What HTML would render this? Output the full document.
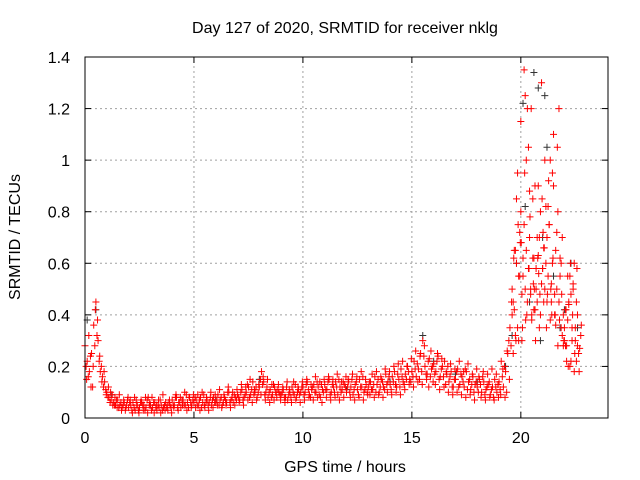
<!DOCTYPE html>
<html><head><meta charset="utf-8"><style>
html,body{margin:0;padding:0;background:#fff;}
svg{display:block;font-family:"Liberation Sans",sans-serif;}
</style></head><body>
<svg id="chart" width="640" height="480" viewBox="0 0 640 480">
<text x="345" y="33" font-size="16" text-anchor="middle">Day 127 of 2020, SRMTID for receiver nklg</text>
<text x="0" y="0" font-size="16" text-anchor="middle" transform="translate(20,237) rotate(-90)">SRMTID / TECUs</text>
<text x="345" y="472" font-size="16" text-anchor="middle">GPS time / hours</text>
<g id="grid"></g>
<g id="axes"></g>
<g id="black"></g>
<g id="red"></g>
<rect x="85" y="57" width="523" height="361" fill="none" stroke="#000" stroke-width="1"/>
</svg>
<script>
const xTicks=[0,5,10,15,20];
const yTicks=[0,0.2,0.4,0.6,0.8,1,1.2,1.4];
const yTickLabels=["0","0.2","0.4","0.6","0.8","1","1.2","1.4"];
const redStart=0, redStep=0.1;
const redA=[.28,.22,.18,.25,.36,.45,.30,.18,.16,.14,
.10,.08,.07,.06,.05,.07,.05,.04,.06,.05,
.04,.05,.06,.03,.05,.04,.06,.05,.04,.08,
.05,.04,.06,.03,.04,.05,.04,.06,.03,.05,
.07,.05,.08,.06,.04,.07,.05,.06,.08,.05,
.06,.07,.05,.08,.06,.04,.07,.06,.05,.08,
.06,.09,.07,.05,.08,.06,.10,.07,.06,.08,
.09,.07,.11,.08,.10,.12,.09,.14,.10,.08,
.12,.18,.14,.10,.08,.11,.09,.12,.08,.10,
.09,.11,.08,.07,.10,.12,.09,.08,.11,.10,
.12,.10,.14,.09,.11,.13,.10,.12,.08,.11,
.13,.11,.15,.10,.12,.14,.09,.12,.11,.13,
.10,.14,.12,.09,.13,.11,.15,.12,.10,.13,
.12,.14,.11,.16,.13,.10,.15,.12,.17,.14,
.13,.16,.18,.12,.15,.19,.14,.17,.20,.15,
.18,.22,.16,.19,.25,.30,.20,.17,.23,.19,
.21,.18,.24,.16,.20,.22,.17,.14,.18,.12,
.15,.19,.13,.16,.12,.18,.14,.11,.16,.13,
.12,.15,.10,.14,.11,.13,.09,.12,.15,.10,
.14,.22,.12,.18,.25,.35,.50,.42,.60,.30,
.80,.55,1.25,.45,.70,.38,.62,.50,.90,.40,
.58,1.0,.45,.75,.52,1.1,.65,.80,.55,.70,
.35,.28,.45,.22,.50,.30,.40,.27];
const redB=[.20,.16,.24,.12,.28,.32,.22,.20,.12,.11,
.08,.06,.09,.05,.07,.04,.06,.05,.03,.07,
.06,.03,.04,.07,.03,.06,.05,.03,.07,.05,
.03,.06,.04,.05,.07,.03,.05,.04,.06,.04,
.05,.08,.04,.06,.07,.05,.09,.04,.06,.07,
.08,.05,.07,.04,.09,.06,.05,.08,.07,.06,
.07,.05,.08,.06,.07,.10,.06,.08,.09,.07,
.08,.10,.07,.09,.13,.08,.11,.09,.12,.10,
.15,.13,.09,.12,.10,.08,.13,.10,.11,.09,
.10,.08,.12,.09,.08,.10,.13,.10,.09,.12,
.09,.13,.11,.08,.12,.10,.14,.09,.13,.10,
.11,.14,.09,.13,.10,.12,.15,.10,.14,.12,
.12,.10,.15,.11,.14,.09,.12,.16,.11,.10,
.14,.11,.13,.10,.15,.12,.14,.11,.13,.16,
.11,.14,.13,.17,.12,.16,.13,.15,.18,.14,
.16,.19,.21,.15,.18,.24,.17,.22,.16,.20,
.17,.22,.15,.19,.16,.13,.20,.16,.12,.15,
.18,.12,.17,.14,.19,.11,.15,.13,.10,.14,
.10,.13,.16,.09,.12,.14,.11,.08,.12,.13,
.11,.16,.20,.10,.30,.28,.45,.65,.35,.55,
.48,1.35,.65,1.05,.50,.85,.42,.70,.35,1.3,
.45,.60,.82,.38,.95,.48,.72,1.2,.60,.40,
.28,.55,.20,.35,.18,.45,.25,.32];
const redC=[.15,.32,.12,.20,.42,.38,.24,.14,.18,.09,
.12,.10,.05,.08,.04,.09,.03,.07,.04,.08,
.07,.02,.08,.05,.02,.07,.03,.08,.02,.06,
.08,.02,.05,.07,.02,.09,.03,.05,.07,.02,
.04,.09,.03,.08,.05,.10,.03,.08,.04,.09,
.04,.09,.03,.10,.05,.08,.03,.10,.04,.09,
.05,.11,.04,.09,.05,.12,.04,.10,.05,.11,
.06,.13,.05,.12,.07,.15,.06,.11,.07,.13,
.09,.16,.07,.15,.06,.13,.07,.10,.13,.07,
.12,.06,.14,.11,.06,.14,.07,.12,.06,.14,
.07,.15,.08,.13,.07,.16,.08,.14,.06,.15,
.08,.16,.07,.15,.08,.17,.07,.14,.08,.16,
.15,.08,.17,.07,.16,.08,.18,.07,.15,.09,
.09,.17,.08,.18,.09,.16,.08,.19,.10,.18,
.09,.20,.10,.21,.09,.22,.11,.20,.13,.23,
.12,.26,.14,.24,.13,.28,.15,.12,.26,.14,
.13,.25,.11,.23,.12,.18,.10,.21,.09,.19,
.10,.22,.09,.18,.08,.21,.09,.17,.07,.19,
.16,.08,.18,.07,.17,.08,.19,.07,.17,.08,
.09,.19,.08,.26,.15,.45,.62,.30,.75,.68,
.35,.95,.40,.58,1.2,.52,.30,.62,.48,.85,
.66,.35,.92,.50,.62,.40,1.05,.38,.48,.30,
.42,.20,.60,.40,.25,.58,.18,.36];
const spikeT=[19.6,19.7,19.8,19.9,20.0,20.05,20.15,20.25,20.35,20.45,20.55,20.65,20.75,20.85,20.95,21.05,21.15,21.25,21.35,21.45,21.55,21.65,21.75,21.85,21.95,22.05,22.15,22.25,22.35,22.45,22.55,19.75,19.85,20.1,20.3,20.5,20.7,20.9,21.1,21.3,21.5,21.7,21.9,22.1,22.3,22.5,19.65,19.95,20.2,20.4,20.6,20.8,21.0,21.2,21.4,21.6,21.8,22.0,22.2,22.4,22.6,20.02,20.22,20.42,20.62,20.82,21.02,21.22,21.42];
const spikeV=[.40,.65,.85,.55,1.15,.30,.75,1.0,.58,.48,.62,.90,.45,.70,.52,.66,.82,.55,1.0,.60,.40,.50,.45,.35,.28,.42,.38,.55,.30,.60,.22,.32,.95,.62,1.2,.40,.58,.80,.50,.75,.90,.28,.32,.22,.48,.35,.25,.72,.50,.88,.42,.63,.58,.70,.45,.36,.62,.30,.44,.52,.28,.68,.38,.78,.50,.56,.72,.48,.40];
const blackT=[0.1,0.5,1.2,3,6,8,10,12,14,15.5,16,17,18,19.3,19.8,20.1,20.2,20.6,20.8,20.9,21.2,21.0,21.5,21.8,22.0,22.3,22.6,21.1,19.6,20.4];
const blackV=[.38,.42,.09,.05,.07,.15,.12,.11,.14,.32,.22,.17,.14,.20,.60,1.22,.82,1.34,1.28,.30,1.05,.70,.55,.35,.42,.60,.35,1.25,.32,.45];

const X0=85,X1=608,Y0=418,Y1=57,XMAX=24,YMAX=1.4;
const xs=v=>X0+(v/XMAX)*(X1-X0);
const ys=v=>Y0-(v/YMAX)*(Y0-Y1);
const NS="http://www.w3.org/2000/svg";
function mk(tag,attrs,parent){const e=document.createElementNS(NS,tag);for(const k in attrs)e.setAttribute(k,attrs[k]);parent.appendChild(e);return e;}
const grid=document.getElementById('grid'),axes=document.getElementById('axes');
xTicks.forEach((t)=>{const x=xs(t);
 if(t>0){const l=mk('line',{x1:x,y1:Y0,x2:x,y2:Y1,stroke:'#a0a0a0','stroke-dasharray':'2,3'},grid);
 
 }
 mk('line',{x1:x,y1:Y0,x2:x,y2:Y0-6,stroke:'#000'},axes);
 mk('line',{x1:x,y1:Y1,x2:x,y2:Y1+6,stroke:'#000'},axes);
 const tx=mk('text',{x:x,y:Y0+25,'font-size':16,'text-anchor':'middle'},axes);tx.textContent=String(t);
 
 
});
yTicks.forEach((t,i)=>{const y=ys(t);
 if(t>0&&t<YMAX){const l=mk('line',{x1:X0,y1:y,x2:X1,y2:y,stroke:'#a0a0a0','stroke-dasharray':'2,3'},grid);
 
 }
 mk('line',{x1:X0,y1:y,x2:X0+6,y2:y,stroke:'#000'},axes);
 mk('line',{x1:X1,y1:y,x2:X1-6,y2:y,stroke:'#000'},axes);
 const tx=mk('text',{x:X0-15,y:y+6,'font-size':16,'text-anchor':'end'},axes);tx.textContent=yTickLabels[i];
 
 
});
function plus(g,t,v,col){const x=xs(t),y=ys(v);
 const p=mk('path',{d:`M${x-3.5},${y}H${x+3.5}M${x},${y-3.5}V${y+3.5}`,stroke:col,'stroke-width':1,fill:'none'},g);
 
 }
const gb=document.getElementById('black'),gr=document.getElementById('red');
blackT.forEach((t,i)=>plus(gb,t,blackV[i],'#333'));
redA.forEach((v,i)=>plus(gr,redStart+i*redStep,v,'#f00'));
redB.forEach((v,i)=>plus(gr,redStart+i*redStep+0.05,v,'#f00'));
redC.forEach((v,i)=>plus(gr,redStart+i*redStep+0.075,v,'#f00'));
spikeT.forEach((t,i)=>plus(gr,t,spikeV[i],'#f00'));
</script>
</body></html>
